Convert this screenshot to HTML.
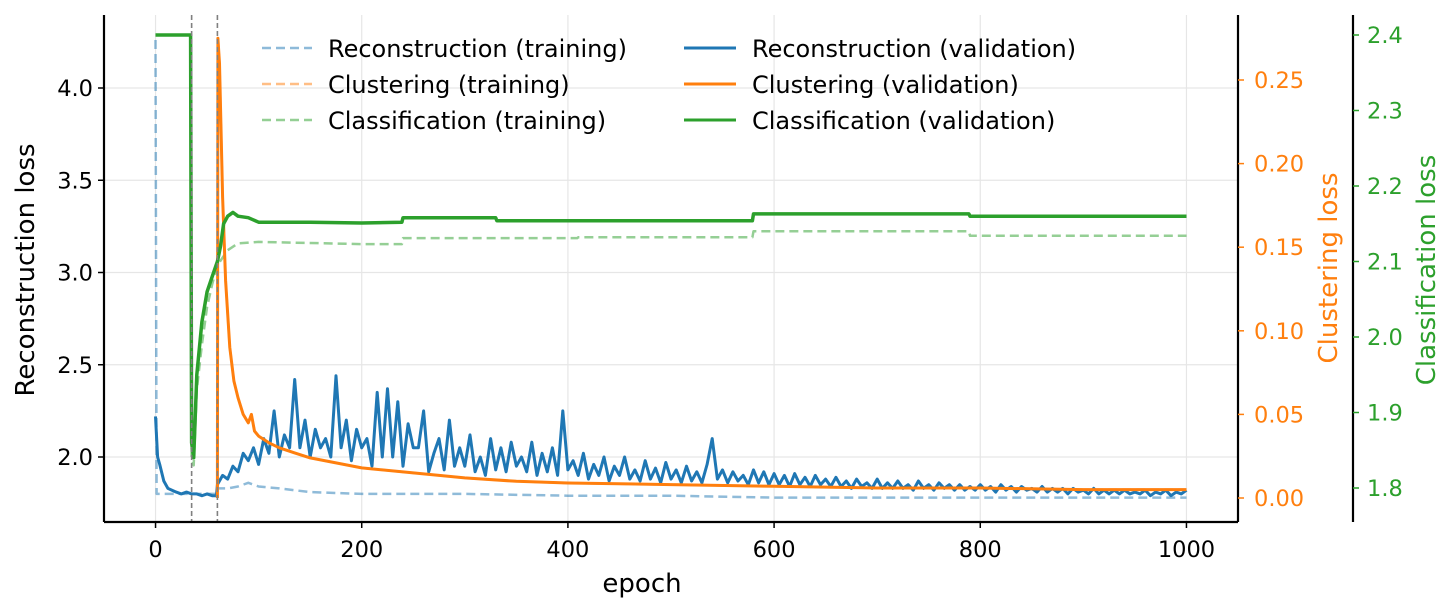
<!DOCTYPE html>
<html><head><meta charset="utf-8"><style>
html,body{margin:0;padding:0;background:#fff;}
svg{display:block;font-family:"DejaVu Sans","Liberation Sans",sans-serif;}
</style></head><body>
<svg id="chart" width="1448" height="612" viewBox="0 0 1448 612" xmlns="http://www.w3.org/2000/svg" style="position:absolute;left:0;top:0">
<g id="grid"></g>
<g id="series"></g>
<g id="axes"></g>
</svg>
<script>
const xTicks=[0,200,400,600,800,1000];
const leftTicks=[2.0,2.5,3.0,3.5,4.0];
const orangeTicks=[0.00,0.05,0.10,0.15,0.20,0.25];
const greenTicks=[1.8,1.9,2.0,2.1,2.2,2.3,2.4];
const vlineEpochs=[35,60];

const reconValEarlyEpochs=[0,2,4,8,12,16,20,25,30,35,40,45,50,55,59];
const reconValStart=60, reconValStep=5;
const reconVal=[2.22,2.0,1.96,1.87,1.83,1.82,1.81,1.8,1.81,1.8,1.8,1.79,1.8,1.79,1.79,
1.85,1.90,1.88,1.95,1.92,2.02,1.98,2.05,1.96,2.10,2.02,2.25,2.0,2.12,2.05,2.42,2.05,2.2,2.0,2.15,2.05,2.1,2.0,2.44,2.05,2.2,1.98,2.15,2.05,2.1,1.95,2.35,2.0,2.37,2.0,2.3,1.95,2.18,2.05,2.05,2.25,1.92,2.02,2.1,1.93,2.2,1.95,2.05,1.95,2.12,1.92,2.0,1.9,2.1,1.93,2.05,1.92,2.08,1.95,2.0,1.92,2.08,1.9,2.02,1.92,2.05,1.9,2.25,1.93,
1.98,1.9,2.02,1.88,1.96,1.9,2.0,1.87,1.95,1.9,2.0,1.88,1.93,1.87,1.98,1.88,1.94,1.86,1.97,1.88,1.93,1.86,1.95,1.87,1.92,1.86,1.96,2.1,1.88,1.93,1.86,1.92,1.87,1.9,1.85,1.93,1.86,1.92,1.85,1.91,
1.85,1.9,1.84,1.91,1.85,1.89,1.84,1.9,1.85,1.88,1.84,1.89,1.84,1.87,1.83,1.88,1.84,1.86,1.83,1.88,1.83,1.86,1.83,1.87,1.83,1.85,1.82,1.87,1.83,1.85,1.82,1.86,1.83,1.85,1.82,1.85,1.82,1.84,1.82,1.85,
1.82,1.84,1.81,1.85,1.82,1.84,1.81,1.84,1.82,1.83,1.81,1.84,1.81,1.83,1.81,1.83,1.8,1.83,1.81,1.82,1.8,1.83,1.8,1.82,1.8,1.82,1.8,1.82,1.8,1.81,1.8,1.82,1.79,1.81,1.8,1.82,1.79,1.81,1.8,1.82];

const reconTrainEpochs=[0,1,59,60,70,80,90,100,120,150,200,300,400,500,600,800,1000];
const reconTrain=[4.26,1.8,1.8,1.83,1.83,1.84,1.86,1.84,1.83,1.81,1.8,1.8,1.79,1.79,1.78,1.78,1.78];

const clusterEpochs=[60,60.5,62,65,68,72,76,80,85,90,93,96,100,110,120,135,150,175,200,250,300,350,400,500,600,700,800,900,1000];
const clusterVal=[0,0.275,0.26,0.18,0.13,0.09,0.07,0.06,0.05,0.045,0.05,0.04,0.037,0.033,0.03,0.027,0.024,0.021,0.018,0.015,0.012,0.01,0.009,0.008,0.007,0.006,0.006,0.005,0.005];
const clusterTrain=[0,0.275,0.26,0.18,0.13,0.09,0.07,0.06,0.05,0.045,0.05,0.04,0.037,0.033,0.03,0.027,0.024,0.021,0.018,0.015,0.012,0.01,0.009,0.008,0.007,0.006,0.006,0.005,0.005];

const classValEpochs=[0,34,35,37,40,45,50,55,60,63,66,70,75,80,90,100,150,200,239,240,330,331,579,580,789,790,1000];
const classVal=[2.40,2.40,1.86,1.84,1.95,2.02,2.06,2.08,2.10,2.12,2.15,2.16,2.165,2.16,2.158,2.152,2.152,2.151,2.152,2.158,2.158,2.154,2.154,2.163,2.163,2.160,2.160];
const classTrainEpochs=[0,34,35,37,40,45,50,55,60,70,80,100,200,239,240,409,410,579,580,789,790,1000];
const classTrain=[2.40,2.40,1.84,1.83,1.93,1.99,2.04,2.07,2.095,2.115,2.124,2.126,2.123,2.123,2.131,2.131,2.132,2.132,2.140,2.140,2.134,2.134];

const L=104,R=1238,T=15,B=522,R2=1353;
const x=e=>L+(e+50)*(R-L)/1100;
const yL=v=>88+(4-v)*184.5;
const yO=v=>498-v*1672;
const yG=v=>488-(v-1.8)*755;
const reconValEpochs=reconValEarlyEpochs.slice();
for(let i=reconValEarlyEpochs.length;i<reconVal.length;i++)reconValEpochs.push(reconValStart+(i-reconValEarlyEpochs.length)*reconValStep);
const NS="http://www.w3.org/2000/svg";
function mk(tag,attrs,parent,text){const el=document.createElementNS(NS,tag);for(const k in attrs)el.setAttribute(k,attrs[k]);if(text!==undefined)el.textContent=text;parent.appendChild(el);return el;}
const grid=document.getElementById('grid'),series=document.getElementById('series'),axes=document.getElementById('axes');

xTicks.forEach(t=>{const g=mk('line',{x1:x(t),x2:x(t),y1:T,y2:B,stroke:'#e6e6e6','stroke-width':1.2},grid);

});
leftTicks.forEach(t=>{const g=mk('line',{x1:L,x2:R,y1:yL(t),y2:yL(t),stroke:'#e6e6e6','stroke-width':1.2},grid);

});

function path(ex,vals,fy,color,w,dash,op,name){
  const d=ex.map((e,i)=>(i?'L':'M')+x(e).toFixed(1)+' '+fy(vals[i]).toFixed(1)).join(' ');
  const p=mk('path',{d:d,fill:'none',stroke:color,'stroke-width':w,'stroke-linejoin':'round',opacity:op},series);
  if(dash)p.setAttribute('stroke-dasharray',dash);
  
  
}
path(classTrainEpochs,classTrain,yG,'#2ca02c',2.5,'9,5',0.5,'classification-training-line');
path(reconTrainEpochs,reconTrain,yL,'#1f77b4',2.5,'9,5',0.5,'reconstruction-training-line');
path(clusterEpochs,clusterTrain,yO,'#ff7f0e',2.5,'9,5',0.5,'clustering-training-line');
path(reconValEpochs,reconVal,yL,'#1f77b4',3,null,1,'reconstruction-validation-line');
path(clusterEpochs,clusterVal,yO,'#ff7f0e',3,null,1,'clustering-validation-line');
path(classValEpochs,classVal,yG,'#2ca02c',3.5,null,1,'classification-validation-line');
vlineEpochs.forEach(e=>{const v=mk('line',{x1:x(e),x2:x(e),y1:T,y2:B,stroke:'#808080','stroke-width':1.6,'stroke-dasharray':'5,3'},series);

});

[[L,T,L,B],[L,B,R,B],[R,T,R,B],[R2,T,R2,B]].forEach(s=>{const l=mk('line',{x1:s[0],y1:s[1],x2:s[2],y2:s[3],stroke:'#000','stroke-width':2.2},axes);

});
xTicks.forEach(t=>{mk('line',{x1:x(t),x2:x(t),y1:B,y2:B+6,stroke:'#000','stroke-width':1.5},axes);
const tx=mk('text',{x:x(t),y:B+35,'text-anchor':'middle','font-size':22.5},axes,String(t));

});
leftTicks.forEach(t=>{mk('line',{x1:L-6,x2:L,y1:yL(t),y2:yL(t),stroke:'#000','stroke-width':1.5},axes);
const tx=mk('text',{x:L-11,y:yL(t)+8,'text-anchor':'end','font-size':22.5},axes,t.toFixed(1));

});
orangeTicks.forEach(t=>{mk('line',{x1:R,x2:R+6,y1:yO(t),y2:yO(t),stroke:'#ff7f0e','stroke-width':1.5},axes);
const tx=mk('text',{x:R+16,y:yO(t)+8,'font-size':22.5,fill:'#ff7f0e'},axes,t.toFixed(2));

});
greenTicks.forEach(t=>{mk('line',{x1:R2,x2:R2+6,y1:yG(t),y2:yG(t),stroke:'#2ca02c','stroke-width':1.5},axes);
const tx=mk('text',{x:R2+14,y:yG(t)+8,'font-size':22.5,fill:'#2ca02c'},axes,t.toFixed(1));

});
</script>
<svg style="position:absolute;left:0;top:0" width="1448" height="612" font-family="DejaVu Sans, Liberation Sans, sans-serif">
<text x="642" y="592" text-anchor="middle" font-size="26">epoch</text>
<text transform="translate(34,270) rotate(-90)" text-anchor="middle" font-size="26">Reconstruction loss</text>
<text transform="translate(1337,268) rotate(-90)" text-anchor="middle" font-size="26" fill="#ff7f0e">Clustering loss</text>
<text transform="translate(1435,270) rotate(-90)" text-anchor="middle" font-size="26" fill="#2ca02c">Classification loss</text>
<g font-size="24">
<g><line x1="262" x2="312" y1="48" y2="48" stroke="#1f77b4" stroke-width="2.5" stroke-dasharray="9,5" opacity="0.5"/><text x="328" y="57">Reconstruction (training)</text></g>
<g><line x1="262" x2="312" y1="84" y2="84" stroke="#ff7f0e" stroke-width="2.5" stroke-dasharray="9,5" opacity="0.5"/><text x="328" y="93">Clustering (training)</text></g>
<g><line x1="262" x2="312" y1="120" y2="120" stroke="#2ca02c" stroke-width="2.5" stroke-dasharray="9,5" opacity="0.5"/><text x="328" y="129">Classification (training)</text></g>
<g><line x1="684" x2="736" y1="48" y2="48" stroke="#1f77b4" stroke-width="3"/><text x="752" y="57">Reconstruction (validation)</text></g>
<g><line x1="684" x2="736" y1="84" y2="84" stroke="#ff7f0e" stroke-width="3"/><text x="752" y="93">Clustering (validation)</text></g>
<g><line x1="684" x2="736" y1="120" y2="120" stroke="#2ca02c" stroke-width="3"/><text x="752" y="129">Classification (validation)</text></g>
</g>
</svg>
</body></html>
